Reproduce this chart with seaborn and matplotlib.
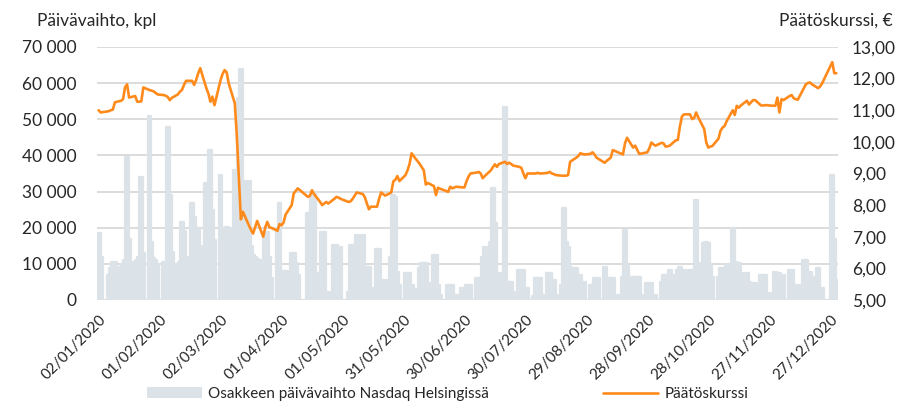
import numpy as np
import pandas as pd
import matplotlib
matplotlib.use('Agg')
import matplotlib.pyplot as plt
import matplotlib.ticker as ticker
from matplotlib.patches import Patch
from matplotlib.lines import Line2D
import seaborn as sns

# trading days 2020 (Nasdaq Helsinki holidays removed)
holidays = ['2020-01-06', '2020-04-10', '2020-04-13', '2020-05-01',
            '2020-05-21', '2020-06-19', '2020-12-24', '2020-12-25']
days = pd.bdate_range('2020-01-02', '2020-12-30', freq='C', holidays=holidays)

# daily volume, thousands of shares
volume_k = [
    18.4, 12, 6.9, 8.8, 10.6, 10.6, 9, 10, 11, 39.5, 17, 10.6, 11, 12, 34, 13, 51, 16, 11.5, 11, 10,  # jan
    10.5, 10, 48, 29, 13.4, 10, 10.5, 21.7, 19, 12, 26.7, 23, 19.8, 20, 15, 32.3, 30, 41.5, 25, 16.6,  # feb
    34.6, 20, 18, 20.3, 20, 36, 22, 56, 64, 33, 33, 15, 12.4, 12, 11.3, 11, 18.9, 18.9, 12, 6, 20, 26.7,  # mar
    8, 8, 8, 12.9, 12.9, 10.1, 6.9, 24, 24, 30, 30, 7.4, 18.9, 18.9, 2.3, 2.3, 15.2, 15.2, 14.8, 14.8,  # apr
    2.3, 15.2, 15.2, 15.2, 18, 18, 7.4, 9.2, 9.2, 3.2, 14.1, 14.1, 5.5, 5.5, 12, 29, 28.6, 7.8, 4.1,  # may
    7.4, 7.4, 7.4, 4.1, 3, 8.8, 10.1, 10.1, 10.1, 4.6, 12.4, 12.4, 4.1, 1.4, 4.1, 4.1, 4.1, 1.4, 1.4, 3.2, 3.2,  # jun
    4.1, 4.1, 4.1, 6, 6, 6, 12, 14.8, 16, 30.9, 21.2, 7.4, 7.4, 53.5, 5, 5, 5, 2.3, 8.3, 8.3, 8.3, 3.2, 3.2,  # jul
    1, 6, 6, 6, 1.4, 7.4, 7.4, 3.2, 5.5, 1.4, 4.1, 25.4, 16, 14.8, 9, 8.8, 6.9, 6.9, 5, 5, 4.1,  # aug
    4.1, 6, 6, 6, 9.2, 4.1, 6, 6, 6, 1.4, 1.4, 6.5, 19.4, 10, 6.5, 6.5, 6.5, 6.5, 1.4, 4.6, 4.6, 4.6,  # sep
    1.4, 1.4, 5, 6.9, 6.9, 6.9, 8.3, 7, 8.3, 9, 6, 8.3, 8.3, 8.3, 8.3, 27.7, 10.1, 15.7, 16, 15.7, 10, 6.5,  # oct
    6.5, 8.8, 8.8, 3.2, 10, 19.8, 10.6, 10.1, 10.1, 7.4, 7.4, 5, 4.6, 4.6, 4.6, 6.9, 6.9, 6.9, 1.8, 1.8, 7.8,  # nov
    7.4, 7.4, 4.1, 6.9, 8.3, 8.3, 4.1, 4.1, 4.1, 11, 11, 7.8, 7.8, 6.5, 8.8, 3.2, 3.2, 34.6, 17, 5.5,  # dec
]

# closing price, EUR
price = [
    11.0, 10.93, 10.97, 11.0, 11.02, 11.25, 11.3, 11.35, 11.72, 11.82, 11.4, 11.45, 11.27, 11.27, 11.28,
    11.72, 11.64, 11.62, 11.6, 11.55, 11.5,  # jan
    11.48, 11.46, 11.42, 11.32, 11.39, 11.5, 11.59, 11.64, 11.8, 11.93, 11.93, 11.8, 11.96, 12.17, 12.33,
    11.7, 11.53, 11.27, 11.43, 11.16,  # feb
    11.95, 12.15, 12.27, 12.2, 11.85, 11.22, 10.2, 8.9, 7.55, 7.79, 7.35, 7.22, 7.1, 7.3, 7.5,
    7.0, 7.3, 7.47, 7.3, 7.28, 7.19, 7.4,  # mar
    7.36, 7.45, 7.7, 8.0, 8.37, 8.45, 8.53, 8.26, 8.3, 8.47, 8.35, 8.1, 8.0, 8.05, 8.1, 8.05, 8.2, 8.26,
    8.24, 8.2,  # apr
    8.1, 8.12, 8.2, 8.3, 8.4, 8.35, 8.25, 8.05, 7.87, 7.95, 7.95, 8.2, 8.4, 8.3, 8.4, 8.75, 8.8, 8.92, 8.76,  # may
    8.95, 9.1, 9.3, 9.64, 9.55, 9.3, 9.2, 9.1, 8.65, 8.7, 8.6, 8.32, 8.55, 8.52, 8.42, 8.58, 8.53, 8.56,
    8.58, 8.56, 8.56,  # jun
    8.75, 8.9, 9.0, 9.03, 9.05, 9.0, 8.85, 8.92, 9.1, 9.2, 9.29, 9.21, 9.3, 9.37, 9.3, 9.34, 9.3, 9.25,
    9.21, 9.18, 9.0, 8.85, 9.0,  # jul
    9.0, 9.0, 9.02, 9.0, 9.0, 9.02, 9.05, 9.0, 8.98, 8.95, 8.93, 8.93, 8.93, 8.95, 9.37, 9.5, 9.55, 9.64,
    9.62, 9.6, 9.62,  # aug
    9.67, 9.6, 9.5, 9.46, 9.34, 9.4, 9.45, 9.5, 9.74, 9.66, 9.63, 9.6, 9.95, 10.13, 9.82, 9.88, 9.75,
    9.62, 9.63, 9.67, 9.8, 9.98,  # sep
    9.92, 9.88, 9.97, 9.95, 9.85, 9.86, 9.88, 10.05, 10.06, 10.48, 10.8, 10.87, 10.87, 10.72, 10.75,
    10.93, 10.78, 10.4, 9.98, 9.82, 9.85, 9.87,  # oct
    10.1, 10.35, 10.45, 10.5, 10.65, 11.0, 10.85, 11.14, 11.08, 11.15, 11.3, 11.18, 11.25, 11.32, 11.32,
    11.15, 11.15, 11.16, 11.16, 11.15, 11.14,  # nov
    11.4, 10.93, 11.35, 11.32, 11.45, 11.48, 11.38, 11.35, 11.33, 11.7, 11.82, 11.86, 11.88, 11.82,
    11.7, 11.75, 11.85, 12.52, 12.17, 12.17,  # dec
]

tick_labels = ['02/01/2020', '01/02/2020', '02/03/2020', '01/04/2020', '01/05/2020', '31/05/2020',
               '30/06/2020', '30/07/2020', '29/08/2020', '28/09/2020', '28/10/2020', '27/11/2020',
               '27/12/2020']

df = pd.DataFrame({'Date': days, 'Volume': np.array(volume_k) * 1000, 'Price': price})

bar_col = '#DCE3E8'
line_col = '#FF8A1C'
txt_col = '#262626'

sns.set_theme(style='white')
plt.rcParams['font.family'] = ['Lato', 'DejaVu Sans']
plt.rcParams['text.color'] = txt_col

fig = plt.figure(figsize=(9.17, 4.03), dpi=100)
ax = fig.add_axes([0.1058, 0.2556, 0.808, 0.6278])
ax2 = ax.twinx()

# volume bars (left axis), round joins give the soft tops
bars = ax.bar(df['Date'], df['Volume'], width=1.9, color=bar_col, edgecolor=bar_col,
              linewidth=1.6, zorder=2)
for b in bars:
    b.set_joinstyle('round')
ax.set_ylim(0, 70000)
ax.yaxis.set_major_locator(ticker.MultipleLocator(10000))
ax.yaxis.set_major_formatter(ticker.FuncFormatter(lambda v, p: f'{int(v):,}'.replace(',', ' ')))
ax.grid(axis='y', color='#D9D9D9', linewidth=1.3, zorder=0)
ax.set_axisbelow(True)

# closing price (right axis)
sns.lineplot(data=df, x='Date', y='Price', ax=ax2, color=line_col, linewidth=1.9)
ax2.set_ylim(5, 13)
ax2.yaxis.set_major_locator(ticker.MultipleLocator(1))
ax2.yaxis.set_major_formatter(ticker.FuncFormatter(lambda v, p: f'{v:.2f}'.replace('.', ',')))

ticks = pd.to_datetime(tick_labels, format='%d/%m/%Y')
ax.set_xlim(days[0] - pd.Timedelta(hours=19), days[-1] + pd.Timedelta(hours=19))
ax.set_xticks(ticks)
ax.set_xticklabels(tick_labels, rotation=45, ha='right', rotation_mode='anchor')

for a in (ax, ax2):
    for s in a.spines.values():
        s.set_visible(False)
    a.set_xlabel(''); a.set_ylabel('')
ax.tick_params(axis='x', length=0, pad=9, labelsize=11, colors=txt_col)
ax.tick_params(axis='y', length=0, pad=15, labelsize=12.5, colors=txt_col)
ax2.tick_params(axis='y', length=0, pad=10, labelsize=12.5, colors=txt_col)

fig.text(0.040, 0.948, 'Päivävaihto, kpl', ha='left', va='center', fontsize=12.5)
fig.text(0.974, 0.948, 'Päätöskurssi, €', ha='right', va='center', fontsize=12.5)

handles = [Patch(facecolor=bar_col, edgecolor='none'), Line2D([], [], color=line_col, linewidth=1.9)]
fig.legend(handles, ['Osakkeen päivävaihto Nasdaq Helsingissä', 'Päätöskurssi'],
           loc='center', bbox_to_anchor=(0.488, 0.022), ncol=2, frameon=False, fontsize=11,
           handlelength=3.6, handletextpad=0.4, columnspacing=7.5)

fig.savefig('out.png', dpi=100)
